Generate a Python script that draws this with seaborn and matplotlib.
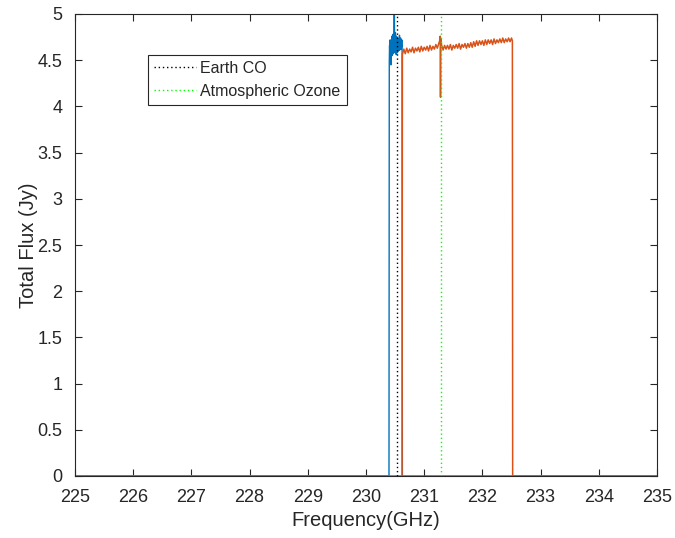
import numpy as np
import pandas as pd
import matplotlib
matplotlib.use("Agg")
import matplotlib.pyplot as plt
import seaborn as sns

# ---- data ----
blue_freq = [225.0, 230.395, 230.400, 230.405, 230.410, 230.415, 230.420, 230.425, 230.430,
             230.435, 230.440, 230.445, 230.450, 230.455, 230.460, 230.465, 230.470, 230.475,
             230.480, 230.486, 230.490, 230.495, 230.500, 230.505, 230.510, 230.515, 230.520,
             230.525, 230.530, 230.535, 230.540, 230.545, 230.550, 230.555, 230.560, 230.565,
             230.570, 230.575, 230.580, 230.585, 230.590, 230.595, 230.600, 230.605, 230.610,
             230.615, 230.620, 230.625, 235.0]
blue_flux = [0.0, 0.0, 4.48, 4.66, 4.52, 4.72, 4.56, 4.62, 4.45, 4.70, 4.58, 4.76, 4.55,
             4.68, 4.60, 4.78, 4.57, 4.72, 4.62, 5.60, 4.66, 4.74, 4.58, 4.80, 4.62, 4.71,
             4.56, 4.76, 4.63, 4.70, 4.58, 4.74, 4.62, 4.69, 4.60, 4.73, 4.64, 4.77, 4.61,
             4.70, 4.65, 4.74, 4.62, 4.69, 4.64, 4.72, 4.63, 0.0, 0.0]

orange_freq = [225.0, 230.620, 230.625, 230.650, 230.675, 230.700, 230.725, 230.750, 230.775,
               230.800, 230.825, 230.850, 230.875, 230.900, 230.925, 230.950, 230.975,
               231.000, 231.025, 231.050, 231.075, 231.100, 231.125, 231.150, 231.175,
               231.200, 231.225, 231.250, 231.265, 231.275, 231.280, 231.285, 231.300,
               231.325, 231.350, 231.375, 231.400, 231.425, 231.450, 231.475, 231.500,
               231.525, 231.550, 231.575, 231.600, 231.625, 231.650, 231.675, 231.700,
               231.725, 231.750, 231.775, 231.800, 231.825, 231.850, 231.875, 231.900,
               231.925, 231.950, 231.975, 232.000, 232.025, 232.050, 232.075, 232.100,
               232.125, 232.150, 232.175, 232.200, 232.225, 232.250, 232.275, 232.300,
               232.325, 232.350, 232.375, 232.400, 232.425, 232.450, 232.475, 232.500,
               232.515, 232.520, 235.0]
orange_flux = [0.0, 0.0, 4.56, 4.62, 4.57, 4.63, 4.58, 4.62, 4.59,
               4.64, 4.58, 4.63, 4.60, 4.64, 4.59, 4.65, 4.60,
               4.64, 4.61, 4.65, 4.60, 4.66, 4.61, 4.65, 4.62,
               4.67, 4.63, 4.68, 4.71, 4.76, 4.10, 4.73, 4.66,
               4.61, 4.66, 4.62, 4.66, 4.62, 4.67, 4.61, 4.66,
               4.63, 4.67, 4.63, 4.68, 4.62, 4.67, 4.64, 4.68,
               4.63, 4.68, 4.64, 4.69, 4.64, 4.70, 4.65, 4.71,
               4.66, 4.71, 4.67, 4.71, 4.66, 4.72, 4.67, 4.72,
               4.68, 4.72, 4.67, 4.73, 4.68, 4.72, 4.69, 4.73,
               4.69, 4.74, 4.69, 4.73, 4.70, 4.74, 4.70, 4.74,
               4.71, 0.0, 0.0]

line_names = ["Earth CO", "Atmospheric Ozone"]
line_freqs = [230.538, 231.281]

x_ticks = [225, 226, 227, 228, 229, 230, 231, 232, 233, 234, 235]
y_ticks = [0, 0.5, 1, 1.5, 2, 2.5, 3, 3.5, 4, 4.5, 5]
y_tick_labels = ["0", "0.5", "1", "1.5", "2", "2.5", "3", "3.5", "4", "4.5", "5"]

# ---- style ----
sns.set_theme(style="white")
plt.rcParams["font.family"] = ["Liberation Sans", "DejaVu Sans"]

fig = plt.figure(figsize=(6.75, 5.38), dpi=100)
ax = fig.add_axes([75 / 675, 62 / 538, 582 / 675, 462 / 538])

blue_df = pd.DataFrame({"freq": blue_freq, "flux": blue_flux})
orange_df = pd.DataFrame({"freq": orange_freq, "flux": orange_flux})

sns.lineplot(data=blue_df, x="freq", y="flux", ax=ax, color="#0072BD",
             linewidth=1.0, estimator=None, sort=False, legend=False)
sns.lineplot(data=orange_df, x="freq", y="flux", ax=ax, color="#D95319",
             linewidth=1.1, estimator=None, sort=False, legend=False)

line_colors = ["black", "#00FF00"]
handles = []
for name, f, c in zip(line_names, line_freqs, line_colors):
    h = ax.axvline(f, color=c, linestyle=(0, (1, 2)), linewidth=1.0, label=name)
    handles.append(h)

ax.set_xlim(225, 235)
ax.set_ylim(0, 5)
ax.set_xticks(x_ticks)
ax.set_xticklabels([str(t) for t in x_ticks])
ax.set_yticks(y_ticks)
ax.set_yticklabels(y_tick_labels)

edge = "#262626"
for s in ax.spines.values():
    s.set_visible(True)
    s.set_color(edge)
    s.set_linewidth(0.8)
ax.tick_params(axis="both", direction="in", length=5, width=0.8, color=edge,
               labelsize=13, labelcolor=edge, top=True, right=True, bottom=True, left=True)
ax.tick_params(axis="x", pad=9)
ax.tick_params(axis="y", pad=9)

ax.set_xlabel("Frequency(GHz)", fontsize=14.5, color=edge, labelpad=4)
ax.set_ylabel("Total Flux (Jy)", fontsize=14.5, color=edge, labelpad=0)

leg = ax.legend(handles=handles, labels=line_names, loc="upper left",
                bbox_to_anchor=(0.125, 0.912), fontsize=11.5, frameon=True,
                fancybox=False, edgecolor=edge, framealpha=1.0,
                handlelength=2.6, handletextpad=0.3, borderpad=0.4,
                labelspacing=0.5, borderaxespad=0)
leg.get_frame().set_linewidth(0.8)

fig.savefig("out.png", dpi=100)
